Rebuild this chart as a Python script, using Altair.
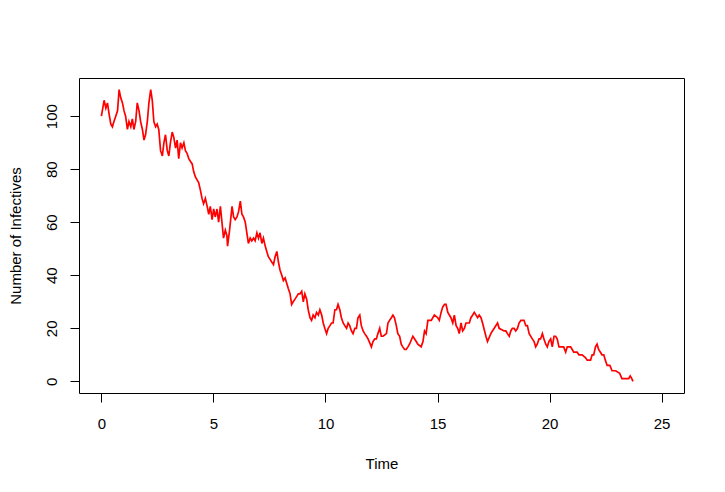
import altair as alt
import pandas as pd

# Time points and number of infectives at those times
time = [0.00, 0.12, 0.20, 0.27, 0.34, 0.42, 0.49, 0.56, 0.64, 0.72, 0.79, 0.86, 0.94, 1.01, 1.08,
        1.16, 1.23, 1.31, 1.38, 1.45, 1.53, 1.60, 1.68, 1.75, 1.83, 1.90, 1.97, 2.05, 2.12, 2.20,
        2.27, 2.34, 2.42, 2.49, 2.56, 2.64, 2.72, 2.79, 2.86, 2.94, 3.01, 3.08, 3.16, 3.23, 3.31,
        3.38, 3.45, 3.53, 3.60, 3.68, 3.75, 3.82, 3.90, 3.97, 4.05, 4.12, 4.20, 4.27, 4.34, 4.42,
        4.49, 4.56, 4.64, 4.72, 4.79, 4.86, 4.94, 5.01, 5.08, 5.16, 5.23, 5.31, 5.38, 5.45, 5.53,
        5.60, 5.63, 5.72, 5.83, 5.90, 5.97, 6.05, 6.12, 6.20, 6.27, 6.34, 6.42, 6.49, 6.56, 6.64,
        6.71, 6.79, 6.86, 6.94, 7.01, 7.08, 7.16, 7.23, 7.31, 7.38, 7.45, 7.53, 7.60, 7.68, 7.75,
        7.83, 7.90, 7.97, 8.05, 8.12, 8.20, 8.27, 8.34, 8.42, 8.49, 8.56, 8.64, 8.79, 8.86, 8.94,
        9.01, 9.08, 9.16, 9.23, 9.31, 9.38, 9.45, 9.53, 9.60, 9.68, 9.75, 9.83, 9.90, 9.97, 10.05,
        10.12, 10.20, 10.27, 10.34, 10.42, 10.49, 10.56, 10.64, 10.71, 10.79, 10.86, 10.94, 11.01,
        11.08, 11.16, 11.23, 11.31, 11.38, 11.45, 11.53, 11.60, 11.68, 11.75, 11.83, 11.90, 12.05,
        12.12, 12.20, 12.27, 12.34, 12.42, 12.49, 12.57, 12.72, 12.79, 12.86, 12.94, 13.01, 13.08,
        13.16, 13.23, 13.31, 13.38, 13.45, 13.53, 13.60, 13.68, 13.75, 13.90, 14.05, 14.12, 14.27,
        14.35, 14.42, 14.49, 14.57, 14.72, 14.86, 15.01, 15.08, 15.16, 15.23, 15.31, 15.38, 15.46,
        15.60, 15.68, 15.75, 15.83, 15.90, 15.97, 16.05, 16.12, 16.20, 16.27, 16.42, 16.49, 16.57,
        16.64, 16.79, 16.86, 16.94, 17.01, 17.16, 17.23, 17.38, 17.45, 17.53, 17.68, 17.75, 17.97,
        18.05, 18.12, 18.20, 18.27, 18.34, 18.42, 18.49, 18.57, 18.64, 18.72, 18.86, 18.94, 19.01,
        19.09, 19.23, 19.31, 19.38, 19.45, 19.53, 19.60, 19.68, 19.75, 19.83, 19.90, 19.97, 20.05,
        20.12, 20.20, 20.27, 20.34, 20.42, 20.55, 20.63, 20.72, 20.79, 20.94, 21.01, 21.08, 21.23,
        21.31, 21.45, 21.60, 21.68, 21.83, 21.90, 21.97, 22.05, 22.12, 22.19, 22.34, 22.42, 22.49,
        22.57, 22.69, 22.79, 22.95, 23.13, 23.23, 23.53, 23.60, 23.67, 23.72]

infectives = [100, 106, 103, 105, 101, 97, 96, 98, 100, 102, 110, 107, 105, 102, 100,
              95, 98, 96, 99, 95, 98, 105, 102, 98, 95, 91, 93, 98, 105, 110,
              106, 98, 96, 97, 95, 87, 85, 90, 93, 87, 85, 90, 94, 92, 88,
              91, 84, 90, 88, 90, 87, 86, 84, 83, 82, 79, 77, 76, 75, 72,
              69, 67, 69, 66, 63, 66, 61, 65, 62, 65, 60, 66, 60, 54, 57,
              55, 51, 57, 66, 62, 61, 62, 64, 68, 63, 62, 60, 56, 52, 54,
              53, 54, 53, 56, 54, 56, 52, 54, 51, 49, 47, 46, 45, 44, 47,
              49, 45, 42, 40, 38, 39, 37, 35, 33, 29, 30, 31, 33, 33, 34,
              30, 33, 31, 27, 24, 23, 25, 24, 26, 25, 27, 25, 22, 20, 18,
              20, 21, 22, 22, 27, 27, 29, 27, 24, 22, 21, 20, 22,
              21, 19, 18, 20, 20, 24, 25, 21, 19, 18, 17, 16, 13,
              15, 16, 16, 18, 20, 17, 17, 18, 22, 23, 24, 25, 24,
              21, 18, 17, 14, 13, 12, 12, 13, 14, 17, 15, 14, 13,
              15, 19, 18, 23, 23, 25, 24, 23, 26, 28, 29, 29, 26,
              24, 22, 25, 21, 20, 18, 22, 19, 20, 22, 22, 24, 25,
              26, 24, 25, 24, 22, 17, 15, 18, 19, 20, 22, 20, 19,
              19, 18, 17, 19, 20, 20, 19, 20, 22, 23, 23, 21, 21,
              18, 16, 15, 13, 14, 16, 16, 18, 16, 14, 13, 15, 16,
              13, 17, 17, 16, 13, 13, 13, 11, 13, 13, 12, 11, 11,
              10, 10, 9, 8, 8, 10, 10, 13, 14, 12, 10, 10, 8,
              6, 6, 4, 4, 3, 1, 1, 2, 1, 0]

x_ticks = [0, 5, 10, 15, 20, 25]
y_ticks = [0, 20, 40, 60, 80, 100]

df = pd.DataFrame({"Time": time, "I": infectives})

FONT = "Liberation Sans"

chart = alt.Chart(df).mark_line(color="#ff0000", strokeWidth=1.7, clip=True).encode(
    x=alt.X("Time:Q",
            scale=alt.Scale(domain=[-1, 26], nice=False, zero=False),
            axis=alt.Axis(values=x_ticks, title="Time", format="d",
                          labelFontSize=15, titleFontSize=15, titleFontWeight="normal",
                          labelFont=FONT, titleFont=FONT,
                          labelColor="black", titleColor="black",
                          tickSize=9, tickColor="black", tickWidth=1,
                          labelPadding=14, labelBaseline="top",
                          domain=False, grid=False,
                          titleBaseline="alphabetic", titleY=75, titleX=302.5,
                          titleAlign="center")),
    y=alt.Y("I:Q",
            scale=alt.Scale(domain=[-4.4, 114.4], nice=False, zero=False),
            axis=alt.Axis(values=y_ticks, title="Number of Infectives", format="d",
                          labelFontSize=15, titleFontSize=15, titleFontWeight="normal",
                          labelFont=FONT, titleFont=FONT,
                          labelColor="black", titleColor="black",
                          tickSize=9, tickColor="black", tickWidth=1,
                          labelPadding=14, labelAngle=270, labelAlign="center",
                          labelBaseline="alphabetic",
                          domain=False, grid=False,
                          titleAngle=270, titleBaseline="alphabetic",
                          titleX=-59, titleY=157.5, titleAlign="center")),
).properties(
    width=605,
    height=315,
    autosize=alt.AutoSizeParams(type="none"),
    padding={"left": 71, "top": 70, "right": 33, "bottom": 91},
    background="white",
).configure_view(
    stroke="black",
    strokeWidth=1,
)

chart.save("out.html", embed_options={"renderer": "svg", "actions": False})
